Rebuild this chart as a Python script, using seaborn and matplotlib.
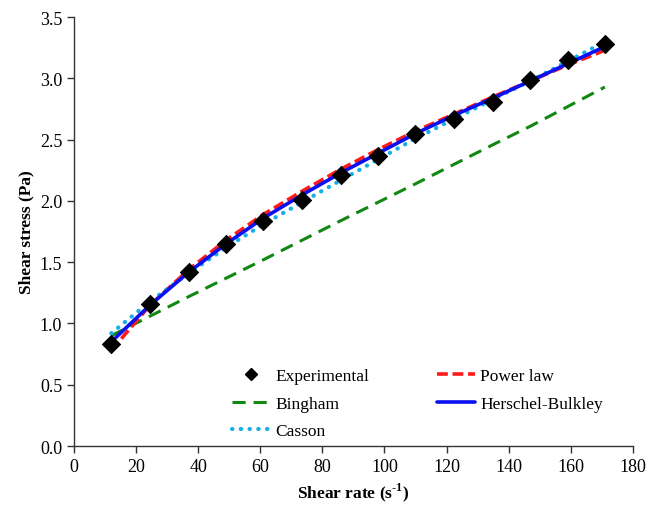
import numpy as np
import pandas as pd
import seaborn as sns
import matplotlib
matplotlib.use("Agg")
import matplotlib.pyplot as plt
from matplotlib.lines import Line2D

shear_rate = [12, 24.5, 37, 49, 61, 73.5, 86, 98, 110, 122.5, 135, 147, 159, 171]
experimental = [0.83, 1.16, 1.42, 1.65, 1.84, 2.01, 2.21, 2.37, 2.55, 2.67, 2.81, 2.99, 3.15, 3.28]
power_law = [0.78, 1.15, 1.44, 1.68, 1.89, 2.08, 2.26, 2.42, 2.57, 2.71, 2.85, 2.98, 3.11, 3.23]
bingham = [0.90, 1.06, 1.22, 1.37, 1.52, 1.68, 1.84, 1.99, 2.14, 2.30, 2.46, 2.61, 2.77, 2.93]
herschel = [0.85, 1.15, 1.42, 1.65, 1.86, 2.05, 2.23, 2.39, 2.55, 2.70, 2.84, 2.98, 3.12, 3.26]
casson = [0.92, 1.18, 1.41, 1.62, 1.81, 1.99, 2.17, 2.34, 2.51, 2.67, 2.83, 2.98, 3.14, 3.30]

sns.set_theme(style="ticks")
plt.rcParams['font.family'] = ['Liberation Serif', 'DejaVu Serif']
plt.rcParams['mathtext.fontset'] = 'custom'
plt.rcParams['mathtext.rm'] = 'Liberation Serif:bold'
plt.rcParams['mathtext.bf'] = 'Liberation Serif:bold'
plt.rcParams['text.color'] = 'black'
plt.rcParams['axes.labelcolor'] = 'black'
plt.rcParams['xtick.color'] = 'black'
plt.rcParams['ytick.color'] = 'black'

df = pd.DataFrame({"rate": shear_rate, "exp": experimental, "pl": power_law,
                   "bh": bingham, "hb": herschel, "cs": casson})

fig = plt.figure(figsize=(6.49, 5.06), dpi=100)
ax = fig.add_axes([0.114, 0.1166, 0.861, 0.8474])

sns.lineplot(data=df, x="rate", y="bh", ax=ax, color="#118811", lw=2.2,
             label="Bingham", linestyle=(0, (4.3, 2.6)))
sns.lineplot(data=df, x="rate", y="pl", ax=ax, color="#ff1a1a", lw=2.6,
             label="Power law", linestyle=(0, (3, 1.3)))
sns.lineplot(data=df, x="rate", y="cs", ax=ax, color="#1aaee8", lw=3.0,
             label="Casson", linestyle=(0, (0.1, 2.0)), dash_capstyle="round")
sns.lineplot(data=df, x="rate", y="hb", ax=ax, color="#0a10f0", lw=2.6,
             label="Herschel-Bulkley")
sns.scatterplot(data=df, x="rate", y="exp", ax=ax, marker="D", color="black",
                s=85, edgecolor="black", label="Experimental", zorder=5)

ax.set_xlim(0, 180)
ax.set_ylim(0, 3.5)
ax.set_xticks(np.arange(0, 181, 20))
ax.set_yticks(np.arange(0, 3.51, 0.5))
ax.set_yticklabels([f"{v:.1f}" for v in np.arange(0, 3.51, 0.5)])
ax.tick_params(labelsize=13, direction="out", length=5, width=1, color="#333333")
for s in ["top", "right"]:
    ax.spines[s].set_visible(False)
for s in ["left", "bottom"]:
    ax.spines[s].set_color("#333333")
    ax.spines[s].set_linewidth(1)

ax.set_xlabel(r"Shear rate (s$^{\text{-}1}$)", fontsize=12.5, fontweight="bold")
ax.set_ylabel("Shear stress (Pa)", fontsize=12.5, fontweight="bold")

handles, labels = ax.get_legend_handles_labels()
hmap = dict(zip(labels, handles))
order = ["Experimental", "Bingham", "Casson", "Power law", "Herschel-Bulkley"]
hexp = Line2D([], [], marker="D", color="black", linestyle="none", markersize=6)
hl = [hexp if o == "Experimental" else hmap[o] for o in order]
ax.legend(hl, order, ncol=2, frameon=False, fontsize=12.5, loc="lower left",
          bbox_to_anchor=(0.27, 0.0), borderaxespad=0.0, columnspacing=3.9,
          handlelength=2.2, handletextpad=0.3, labelspacing=0.65)

fig.savefig("out.png", dpi=100)
